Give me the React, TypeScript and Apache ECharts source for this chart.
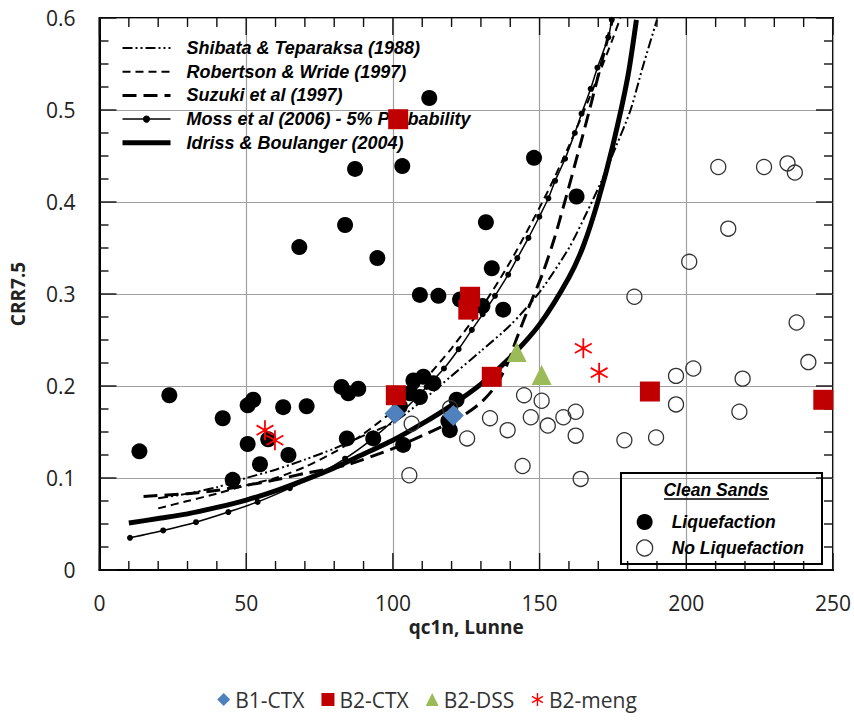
import React, { useEffect, useRef } from "react";
import * as echarts from "echarts";

// ---- Axis ticks ----
const xTicks = { min: 0, max: 250, interval: 50 };
const yTicks = { min: 0, max: 0.6, interval: 0.1 };
// tick-mark positions (major every 50 / 0.1, minor every 10 / 0.025)
const xTickMarks = [0, 10, 20, 30, 40, 50, 60, 70, 80, 90, 100, 110, 120, 130, 140, 150, 160, 170, 180, 190, 200, 210, 220, 230, 240, 250];
const xMajorMarks = [0, 50, 100, 150, 200, 250];
const yTickMarks = [0, 0.025, 0.05, 0.075, 0.1, 0.125, 0.15, 0.175, 0.2, 0.225, 0.25, 0.275, 0.3, 0.325, 0.35, 0.375, 0.4, 0.425, 0.45, 0.475, 0.5, 0.525, 0.55, 0.575, 0.6];
const yMajorMarks = [0, 0.1, 0.2, 0.3, 0.4, 0.5, 0.6];

// ---- Curves ----
const shibata: [number, number][] = [
  [20, 0.078], [30, 0.083], [40, 0.09], [50, 0.1], [60, 0.109], [70, 0.12], [80, 0.132],
  [90, 0.146], [100, 0.16], [110, 0.184], [120, 0.211], [130, 0.238], [140, 0.266],
  [150, 0.302], [160, 0.35], [166, 0.388], [171, 0.422], [176, 0.46], [181, 0.5],
  [185, 0.545], [190, 0.598],
];
const robertson: [number, number][] = [
  [20, 0.067], [30, 0.075], [40, 0.083], [50, 0.092], [60, 0.1], [70, 0.112], [80, 0.128],
  [90, 0.148], [100, 0.173], [110, 0.204], [120, 0.241], [130, 0.284], [140, 0.335],
  [150, 0.394], [155, 0.426], [160, 0.461], [165, 0.498], [170, 0.537], [175, 0.578],
  [177.5, 0.6],
];
const suzuki: [number, number][] = [
  [15, 0.08], [30, 0.083], [41, 0.087], [50, 0.092], [60, 0.098], [70, 0.105], [84, 0.114],
  [100, 0.132], [110, 0.146], [123, 0.166], [130, 0.182], [135, 0.2], [139, 0.224],
  [142, 0.25], [146, 0.283], [151, 0.322], [155, 0.36], [159, 0.405], [163, 0.452],
  [167, 0.5], [171, 0.55], [175, 0.6],
];
const moss: [number, number][] = [
  [10.4, 0.035], [21.7, 0.043], [32.9, 0.052], [43.9, 0.063], [53.9, 0.074], [64.9, 0.089],
  [75.7, 0.106], [83.7, 0.121], [92, 0.14], [102, 0.168], [111.5, 0.199], [117.4, 0.219],
  [122.4, 0.24], [126.9, 0.261], [130.6, 0.278], [134.8, 0.298], [139.3, 0.321],
  [142.4, 0.339], [146.2, 0.361], [149.9, 0.384], [153, 0.404], [155.3, 0.423],
  [158.7, 0.447], [162, 0.475], [164.3, 0.496], [167.4, 0.523], [169.7, 0.546],
  [173.4, 0.579], [174.6, 0.598],
];
const idriss: [number, number][] = [
  [10, 0.051], [20, 0.056], [30, 0.061], [40, 0.068], [50, 0.076], [60, 0.086], [70, 0.098],
  [80, 0.111], [90, 0.126], [100, 0.141], [110, 0.159], [120, 0.179], [130, 0.202],
  [140, 0.231], [150, 0.267], [160, 0.318], [165, 0.353], [170, 0.402], [175, 0.462],
  [180, 0.535], [183, 0.598],
];

// ---- Case history points ----
const liquefaction: [number, number][] = [
  [13.6, 0.129], [23.8, 0.19], [42, 0.165], [45.4, 0.098], [50.5, 0.179], [52.4, 0.185],
  [50.5, 0.137], [54.7, 0.115], [57.5, 0.142], [62.6, 0.177], [64.4, 0.125], [70.6, 0.178],
  [82.5, 0.199], [84.8, 0.192], [88.2, 0.197], [84.3, 0.143], [93.3, 0.143], [103.5, 0.136],
  [102.4, 0.178], [105.8, 0.192], [107, 0.206], [109.2, 0.188], [110.4, 0.21], [113.8, 0.203],
  [118.9, 0.162], [119.4, 0.152], [121.7, 0.185], [87.1, 0.436], [103.2, 0.439], [83.7, 0.375],
  [68.1, 0.351], [94.7, 0.339], [109.2, 0.299], [115.5, 0.298], [122.9, 0.294], [130.5, 0.287],
  [137.6, 0.283], [133.7, 0.328], [131.7, 0.378], [112.4, 0.513], [148.1, 0.448], [162.6, 0.406],
];
const noLiquefaction: [number, number][] = [
  [106.4, 0.159], [105.6, 0.103], [119.5, 0.176], [125.3, 0.143], [133.1, 0.165], [139.1, 0.152],
  [144.7, 0.19], [147, 0.166], [150.7, 0.184], [152.8, 0.157], [158.1, 0.166], [162.3, 0.172],
  [162.3, 0.146], [144.2, 0.113], [164, 0.099], [178.9, 0.141], [189.7, 0.144], [196.5, 0.18],
  [196.5, 0.211], [202.4, 0.219], [218.1, 0.172], [219.2, 0.208], [182.3, 0.297], [201, 0.335],
  [214.3, 0.371], [237.6, 0.269], [241.6, 0.226], [210.9, 0.438], [226.5, 0.438],
  [234.5, 0.442], [237, 0.432],
];

// ---- Test series ----
const b1ctx: [number, number][] = [[100.7, 0.17], [120.6, 0.168]];
const b2ctx: [number, number][] = [
  [101, 0.19], [101.8, 0.49], [126.3, 0.297], [125.7, 0.283], [133.7, 0.21], [187.6, 0.194],
  [246.7, 0.185],
];
const b2dss: [number, number][] = [[142.2, 0.237], [150.7, 0.212]];
const b2meng: [number, number][] = [[56.4, 0.152], [59.8, 0.141], [164.9, 0.241], [170.3, 0.2145]];

const curveNames = [
  "Shibata & Teparaksa (1988)",
  "Robertson & Wride (1997)",
  "Suzuki et al (1997)",
  "Moss et al (2006) - 5% Probability",
  "Idriss & Boulanger (2004)",
];
const testNames = ["B1-CTX", "B2-CTX", "B2-DSS", "B2-meng"];

const ASTERISK = "path://M5,0L5,10M0.8,2.6L9.2,7.4M0.8,7.4L9.2,2.6";
const ARIAL = "'Liberation Sans', Arial, sans-serif";
const CAL = "'Open Sans', 'Noto Sans', sans-serif";

const MAJOR_LEN = 17;
const MINOR_LEN = 9;
const TICK_STYLE = { stroke: "#111", lineWidth: 1.4 };

export default function App() {
  const ref = useRef<HTMLDivElement>(null);
  useEffect(() => {
    if (!ref.current) return;
    const chart = echarts.init(ref.current, null, { renderer: "svg" });
    const lineSeries = (name: string, data: [number, number][], width: number, type: any, z = 2) => ({
      name,
      type: "line",
      data,
      smooth: 0.25,
      symbol: "none",
      lineStyle: { color: "#000", width, type },
      itemStyle: { color: "#000" },
      z,
    });
    const axisLine = { show: true, lineStyle: { color: "#000", width: 2 } };
    chart.setOption({
      animation: false,
      backgroundColor: "#fff",
      textStyle: { fontFamily: CAL },
      grid: {
        left: 99.5, right: 21, top: 18, bottom: 151, containLabel: false,
        show: true, borderColor: "#000", borderWidth: 2, backgroundColor: "transparent",
      },
      xAxis: {
        type: "value",
        ...xTicks,
        position: "bottom",
        name: "qc1n, Lunne",
        nameLocation: "middle",
        nameGap: 42,
        nameTextStyle: { fontFamily: CAL, fontWeight: "bold", fontSize: 19, color: "#222" },
        axisLine,
        axisTick: { show: false },
        axisLabel: { fontFamily: CAL, fontSize: 21, color: "#222", margin: 22 },
        splitLine: { show: true, lineStyle: { color: "#a0a0a0", width: 1.2 } },
      },
      yAxis: {
        type: "value",
        ...yTicks,
        position: "left",
        name: "CRR7.5",
        nameLocation: "middle",
        nameGap: 72,
        nameRotate: 90,
        nameTextStyle: { fontFamily: CAL, fontWeight: "bold", fontSize: 19, color: "#222" },
        axisLine,
        axisTick: { show: false },
        axisLabel: { fontFamily: CAL, fontSize: 21, color: "#222", margin: 24 },
        splitLine: { show: true, lineStyle: { color: "#a0a0a0", width: 1.2 } },
      },
      legend: [
        {
          data: [
            { name: curveNames[0], lineStyle: { width: 2, type: [10, 3, 2, 3, 2, 3] }, itemStyle: { opacity: 0 } },
            { name: curveNames[1], lineStyle: { width: 2, type: [8, 5] }, itemStyle: { opacity: 0 } },
            { name: curveNames[2], lineStyle: { width: 3, type: [14, 7] }, itemStyle: { opacity: 0 } },
            { name: curveNames[3], lineStyle: { width: 1.5, type: "solid" } },
            { name: curveNames[4], lineStyle: { width: 5, type: "solid" }, itemStyle: { opacity: 0 } },
          ],
          orient: "vertical",
          left: 120,
          top: 39,
          padding: 0,
          itemWidth: 48,
          itemHeight: 9,
          itemGap: 5.7,
          selectedMode: false,
          textStyle: {
            fontFamily: ARIAL,
            fontStyle: "italic",
            fontWeight: "bold",
            fontSize: 18,
            lineHeight: 18,
            color: "#000",
            padding: [0, 0, 0, 11],
          },
        },
        {
          data: [
            { name: "Liquefaction" },
            { name: "No Liquefaction", itemStyle: { borderWidth: 1.3, borderColor: "#333" } },
          ],
          orient: "vertical",
          left: 636,
          top: 513,
          padding: 0,
          itemWidth: 16,
          itemHeight: 16,
          itemGap: 8,
          selectedMode: false,
          textStyle: {
            fontFamily: ARIAL,
            fontStyle: "italic",
            fontWeight: "bold",
            fontSize: 17.5,
            lineHeight: 18,
            color: "#000",
            padding: [0, 0, 0, 14],
          },
        },
        {
          data: [
            { name: testNames[0] },
            { name: testNames[1] },
            { name: testNames[2] },
            { name: testNames[3], itemStyle: { borderWidth: 1.4, borderColor: "#ff0000" } },
          ],
          orient: "horizontal",
          left: "center",
          top: 689,
          padding: 0,
          itemWidth: 13,
          itemHeight: 13,
          itemGap: 17,
          selectedMode: false,
          textStyle: { fontFamily: CAL, fontSize: 21, color: "#333" },
        },
      ],
      graphic: [
        {
          type: "rect",
          shape: { x: 621, y: 473, width: 201, height: 91 },
          style: { fill: "transparent", stroke: "#000", lineWidth: 2 },
          z: 10,
        },
        {
          type: "text",
          x: 716,
          y: 490,
          style: {
            text: "Clean Sands",
            fill: "#000",
            font: `italic bold 17.5px ${ARIAL}`,
            textAlign: "center",
            textVerticalAlign: "middle",
            align: "center",
            verticalAlign: "middle",
          },
          z: 10,
        },
        {
          type: "line",
          shape: { x1: 664, y1: 499, x2: 769, y2: 499 },
          style: { stroke: "#000", lineWidth: 1.3 },
          z: 10,
        },
      ],
      series: [
        // inward tick marks on bottom and top edges
        {
          type: "custom",
          name: "xTicks",
          silent: true,
          clip: false,
          z: 5,
          data: xTickMarks.map((v) => [v, yTicks.min]),
          renderItem: (params: any, api: any) => {
            const v = api.value(0);
            const bot = api.coord([v, yTicks.min]);
            const top = api.coord([v, yTicks.max]);
            const len = xMajorMarks.indexOf(v) >= 0 ? MAJOR_LEN : MINOR_LEN;
            return {
              type: "group",
              children: [
                { type: "line", shape: { x1: bot[0], y1: bot[1], x2: bot[0], y2: bot[1] - len }, style: TICK_STYLE },
                { type: "line", shape: { x1: top[0], y1: top[1], x2: top[0], y2: top[1] + len }, style: TICK_STYLE },
              ],
            };
          },
        },
        // inward tick marks on left and right edges
        {
          type: "custom",
          name: "yTicks",
          silent: true,
          clip: false,
          z: 5,
          data: yTickMarks.map((v) => [xTicks.min, v]),
          renderItem: (params: any, api: any) => {
            const v = api.value(1);
            const l = api.coord([xTicks.min, v]);
            const r = api.coord([xTicks.max, v]);
            const major = yMajorMarks.some((m) => Math.abs(m - v) < 1e-9);
            const len = major ? MAJOR_LEN : MINOR_LEN;
            return {
              type: "group",
              children: [
                { type: "line", shape: { x1: l[0], y1: l[1], x2: l[0] + len, y2: l[1] }, style: TICK_STYLE },
                { type: "line", shape: { x1: r[0], y1: r[1], x2: r[0] - len, y2: r[1] }, style: TICK_STYLE },
              ],
            };
          },
        },
        lineSeries(curveNames[0], shibata, 2, [10, 3, 2, 3, 2, 3]),
        lineSeries(curveNames[1], robertson, 2, [8, 5]),
        lineSeries(curveNames[2], suzuki, 3, [14, 7]),
        {
          ...lineSeries(curveNames[3], moss, 1.5, "solid"),
          symbol: "circle",
          symbolSize: 6,
          showSymbol: true,
          showAllSymbol: true,
        },
        lineSeries(curveNames[4], idriss, 5, "solid"),
        {
          name: "Liquefaction",
          type: "scatter",
          data: liquefaction,
          symbol: "circle",
          symbolSize: 16,
          itemStyle: { color: "#000", opacity: 1 },
          z: 3,
        },
        {
          name: "No Liquefaction",
          type: "scatter",
          data: noLiquefaction,
          symbol: "circle",
          symbolSize: 15,
          itemStyle: { color: "rgba(255,255,255,0)", borderColor: "#333", borderWidth: 1.3, opacity: 1 },
          z: 3,
        },
        {
          name: "B1-CTX",
          type: "scatter",
          data: b1ctx,
          symbol: "diamond",
          symbolSize: 21,
          itemStyle: { color: "#4f81bd", opacity: 1 },
          z: 6,
        },
        {
          name: "B2-CTX",
          type: "scatter",
          data: b2ctx,
          symbol: "rect",
          symbolSize: 20,
          itemStyle: { color: "#c00000", opacity: 1 },
          z: 6,
        },
        {
          name: "B2-DSS",
          type: "scatter",
          data: b2dss,
          symbol: "triangle",
          symbolSize: 20,
          itemStyle: { color: "#9bbb59", opacity: 1 },
          z: 6,
        },
        {
          name: "B2-meng",
          type: "scatter",
          data: b2meng,
          symbol: ASTERISK,
          symbolSize: 20,
          symbolKeepAspect: true,
          itemStyle: { color: "rgba(0,0,0,0)", borderColor: "#ff0000", borderWidth: 1.8, opacity: 1 },
          z: 6,
        },
      ],
    });
    return () => chart.dispose();
  }, []);
  return (
    <div
      ref={ref}
      style={{ position: "absolute", left: 0, top: 0, width: 854, height: 721, background: "#fff" }}
    />
  );
}
